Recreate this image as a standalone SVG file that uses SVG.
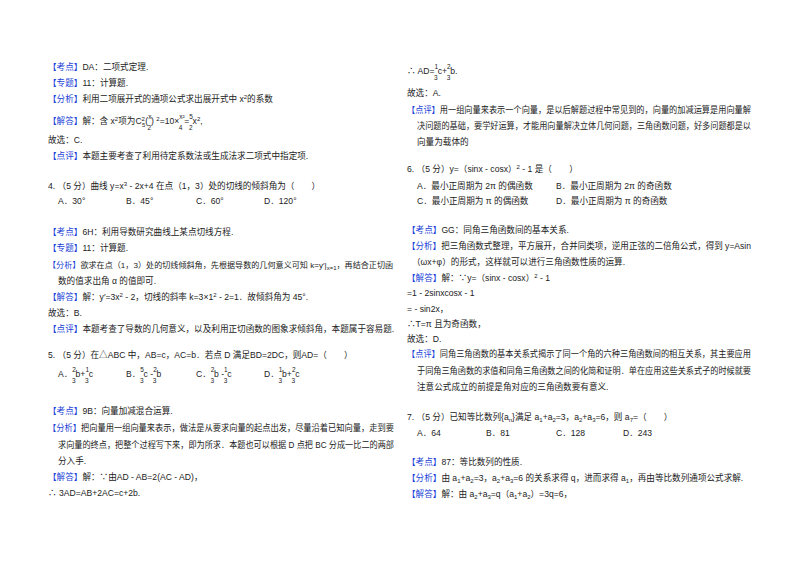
<svg xmlns="http://www.w3.org/2000/svg" width="800" height="565" viewBox="0 0 800 565">
<style>
text{font-family:"Liberation Sans","Noto Sans CJK SC",sans-serif;font-size:8.6px;fill:#222}
.b{fill:#1a3fd8}
.s{font-size:6px}
.f{font-size:6.5px}
</style>
<rect width="800" height="565" fill="#fff"/>
<g id="left">
<text x="48" y="70"><tspan class="b">【考点】</tspan>DA：二项式定理.</text>
<text x="48" y="86"><tspan class="b">【专题】</tspan>11：计算题.</text>
<text x="48" y="102"><tspan class="b">【分析】</tspan>利用二项展开式的通项公式求出展开式中 x<tspan class="s" dy="-3">2</tspan><tspan dy="3">的系数</tspan></text>
<text x="48" y="124"><tspan class="b">【解答】</tspan>解：含 x<tspan class="s" dy="-3">2</tspan><tspan dy="3">项为C</tspan><tspan class="s" dy="-3">2</tspan><tspan class="s" dx="-3" dy="6">5</tspan><tspan dy="-3">(</tspan><tspan class="f" dy="-5">x</tspan><tspan class="f" dx="-4" dy="11">2</tspan><tspan dy="-6">) </tspan><tspan class="s" dy="-3">2</tspan><tspan dy="3">=10×</tspan><tspan class="f" dy="-5">x²</tspan><tspan class="f" dx="-6" dy="11">4</tspan><tspan dx="2" dy="-6">=</tspan><tspan class="f" dy="-5">5</tspan><tspan class="f" dx="-4" dy="11">2</tspan><tspan dy="-6">x</tspan><tspan class="s" dy="-3">2</tspan><tspan dy="3">,</tspan></text>
<text x="48" y="143">故选：C.</text>
<text x="48" y="159"><tspan class="b">【点评】</tspan>本题主要考查了利用待定系数法或生成法求二项式中指定项.</text>
<text x="48" y="189">4. （5 分）曲线 y=x<tspan class="s" dy="-3">3</tspan><tspan dy="3"> - 2x+4 在点（1，3）处的切线的倾斜角为（　　）</tspan></text>
<text x="58" y="204">A．30°</text><text x="126" y="204">B．45°</text><text x="196" y="204">C．60°</text><text x="264" y="204">D．120°</text>
<text x="48" y="235"><tspan class="b">【考点】</tspan>6H：利用导数研究曲线上某点切线方程.</text>
<text x="48" y="251"><tspan class="b">【专题】</tspan>11：计算题.</text>
<text x="48" y="268" style="font-size:8.1px"><tspan class="b">【分析】</tspan>欲求在点（1，3）处的切线倾斜角，先根据导数的几何意义可知 k=y′|<tspan class="s" dy="2">x=1</tspan><tspan dy="-2">，再结合正切函</tspan></text>
<text x="58" y="284">数的值求出角 α 的值即可.</text>
<text x="48" y="300"><tspan class="b">【解答】</tspan>解：y′=3x<tspan class="s" dy="-3">2</tspan><tspan dy="3"> - 2，切线的斜率 k=3×1</tspan><tspan class="s" dy="-3">2</tspan><tspan dy="3"> - 2=1．故倾斜角为 45°.</tspan></text>
<text x="48" y="316">故选：B.</text>
<text x="48" y="332"><tspan class="b">【点评】</tspan>本题考查了导数的几何意义，以及利用正切函数的图象求倾斜角，本题属于容易题.</text>
<text x="48" y="358">5. （5 分）在△ABC 中，AB=c，AC=b．若点 D 满足BD=2DC，则AD=（　　）</text>
<text x="58" y="377">A．<tspan class="f" dy="-5">2</tspan><tspan class="f" dx="-4" dy="11">3</tspan><tspan dy="-6">b+</tspan><tspan class="f" dy="-5">1</tspan><tspan class="f" dx="-4" dy="11">3</tspan><tspan dy="-6">c</tspan></text>
<text x="126" y="377">B．<tspan class="f" dy="-5">5</tspan><tspan class="f" dx="-4" dy="11">3</tspan><tspan dy="-6">c -</tspan><tspan class="f" dy="-5">2</tspan><tspan class="f" dx="-4" dy="11">3</tspan><tspan dy="-6">b</tspan></text>
<text x="196" y="377">C．<tspan class="f" dy="-5">2</tspan><tspan class="f" dx="-4" dy="11">3</tspan><tspan dy="-6">b -</tspan><tspan class="f" dy="-5">1</tspan><tspan class="f" dx="-4" dy="11">3</tspan><tspan dy="-6">c</tspan></text>
<text x="264" y="377">D．<tspan class="f" dy="-5">1</tspan><tspan class="f" dx="-4" dy="11">3</tspan><tspan dy="-6">b+</tspan><tspan class="f" dy="-5">2</tspan><tspan class="f" dx="-4" dy="11">3</tspan><tspan dy="-6">c</tspan></text>
<text x="48" y="414"><tspan class="b">【考点】</tspan>9B：向量加减混合运算.</text>
<text x="48" y="431" textLength="346" lengthAdjust="spacingAndGlyphs"><tspan class="b">【分析】</tspan>把向量用一组向量来表示，做法是从要求向量的起点出发，尽量沿着已知向量，走到要</text>
<text x="58" y="448" textLength="336" lengthAdjust="spacingAndGlyphs">求向量的终点，把整个过程写下来，即为所求．本题也可以根据 D 点把 BC 分成一比二的两部</text>
<text x="58" y="464">分入手.</text>
<text x="48" y="480"><tspan class="b">【解答】</tspan>解：∵由AD - AB=2(AC - AD)，</text>
<text x="48" y="496">∴ 3AD=AB+2AC=c+2b.</text>
</g>
<g id="right">
<text x="407" y="74">∴ AD=<tspan class="f" dy="-5">1</tspan><tspan class="f" dx="-4" dy="11">3</tspan><tspan dy="-6">c+</tspan><tspan class="f" dy="-5">2</tspan><tspan class="f" dx="-4" dy="11">3</tspan><tspan dy="-6">b.</tspan></text>
<text x="407" y="96">故选：A.</text>
<text x="407" y="113" textLength="344" lengthAdjust="spacingAndGlyphs"><tspan class="b">【点评】</tspan>用一组向量来表示一个向量，是以后解题过程中常见到的，向量的加减运算是用向量解</text>
<text x="417" y="129" textLength="334" lengthAdjust="spacingAndGlyphs">决问题的基础，要学好运算，才能用向量解决立体几何问题，三角函数问题，好多问题都是以</text>
<text x="417" y="145">向量为载体的</text>
<text x="407" y="172">6. （5 分）y=（sinx - cosx）<tspan class="s" dy="-3">2</tspan><tspan dy="3"> - 1 是（　　）</tspan></text>
<text x="417" y="189">A．最小正周期为 2π 的偶函数</text><text x="556" y="189">B．最小正周期为 2π 的奇函数</text>
<text x="417" y="204">C．最小正周期为 π 的偶函数</text><text x="556" y="204">D．最小正周期为 π 的奇函数</text>
<text x="407" y="233"><tspan class="b">【考点】</tspan>GG：同角三角函数间的基本关系.</text>
<text x="407" y="249" textLength="344" lengthAdjust="spacingAndGlyphs"><tspan class="b">【分析】</tspan>把三角函数式整理，平方展开，合并同类项，逆用正弦的二倍角公式，得到 y=Asin</text>
<text x="412" y="265">（ωx+φ）的形式，这样就可以进行三角函数性质的运算.</text>
<text x="407" y="281"><tspan class="b">【解答】</tspan>解：∵y=（sinx - cosx）<tspan class="s" dy="-3">2</tspan><tspan dy="3"> - 1</tspan></text>
<text x="407" y="296">=1 - 2sinxcosx - 1</text>
<text x="407" y="312">= - sin2x，</text>
<text x="407" y="327">∴T=π 且为奇函数，</text>
<text x="407" y="342">故选：D.</text>
<text x="407" y="357" textLength="344" lengthAdjust="spacingAndGlyphs"><tspan class="b">【点评】</tspan>同角三角函数的基本关系式揭示了同一个角的六种三角函数间的相互关系，其主要应用</text>
<text x="417" y="374" textLength="334" lengthAdjust="spacingAndGlyphs">于同角三角函数的求值和同角三角函数之间的化简和证明．单在应用这些关系式子的时候就要</text>
<text x="417" y="390">注意公式成立的前提是角对应的三角函数要有意义.</text>
<text x="407" y="420">7. （5 分）已知等比数列{a<tspan class="s" dy="2">n</tspan><tspan dy="-2">}满足 a</tspan><tspan class="s" dy="2">1</tspan><tspan dy="-2">+a</tspan><tspan class="s" dy="2">2</tspan><tspan dy="-2">=3，a</tspan><tspan class="s" dy="2">2</tspan><tspan dy="-2">+a</tspan><tspan class="s" dy="2">3</tspan><tspan dy="-2">=6，则 a</tspan><tspan class="s" dy="2">7</tspan><tspan dy="-2">=（　　）</tspan></text>
<text x="417" y="436">A．64</text><text x="486" y="436">B．81</text><text x="556" y="436">C．128</text><text x="623" y="436">D．243</text>
<text x="407" y="465"><tspan class="b">【考点】</tspan>87：等比数列的性质.</text>
<text x="407" y="481"><tspan class="b">【分析】</tspan>由 a<tspan class="s" dy="2">1</tspan><tspan dy="-2">+a</tspan><tspan class="s" dy="2">2</tspan><tspan dy="-2">=3，a</tspan><tspan class="s" dy="2">2</tspan><tspan dy="-2">+a</tspan><tspan class="s" dy="2">3</tspan><tspan dy="-2">=6 的关系求得 q，进而求得 a</tspan><tspan class="s" dy="2">1</tspan><tspan dy="-2">，再由等比数列通项公式求解.</tspan></text>
<text x="407" y="497"><tspan class="b">【解答】</tspan>解：由 a<tspan class="s" dy="2">2</tspan><tspan dy="-2">+a</tspan><tspan class="s" dy="2">3</tspan><tspan dy="-2">=q（a</tspan><tspan class="s" dy="2">1</tspan><tspan dy="-2">+a</tspan><tspan class="s" dy="2">2</tspan><tspan dy="-2">）=3q=6，</tspan></text>
</g>
</svg>
